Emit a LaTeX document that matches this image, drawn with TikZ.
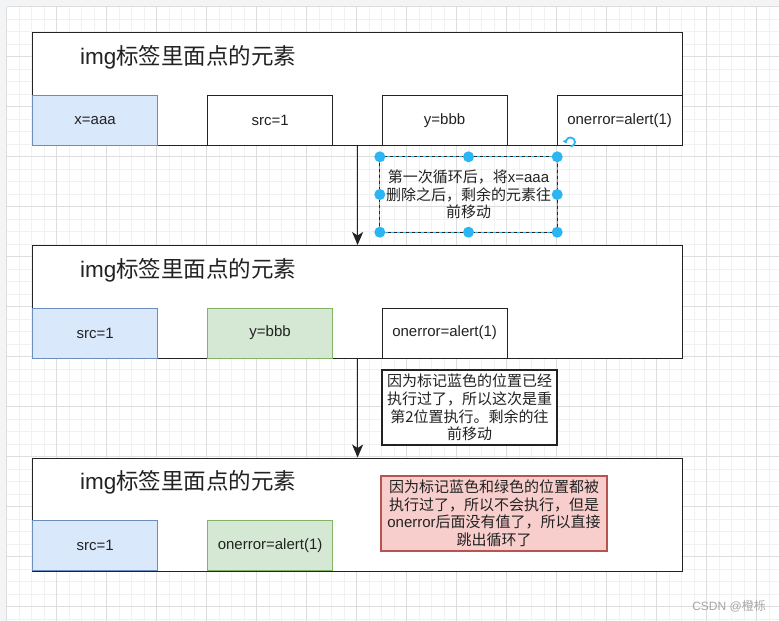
\documentclass[tikz,border=0pt]{standalone}
\usepackage{fontspec}
\setmainfont{Liberation Sans}
\newfontfamily\cjk{Noto Sans CJK SC}
\newfontfamily\lat{Liberation Sans}
\usetikzlibrary{arrows.meta}
\definecolor{gridmin}{HTML}{F1F1F1}
\definecolor{gridmaj}{HTML}{DDDDDD}
\definecolor{canvasbg}{HTML}{F3F4F6}
\definecolor{bluefill}{HTML}{DAE8FC}
\definecolor{bluestroke}{HTML}{6C8EBF}
\definecolor{greenfill}{HTML}{D5E8D4}
\definecolor{greenstroke}{HTML}{82B366}
\definecolor{redfill}{HTML}{F8CECC}
\definecolor{redstroke}{HTML}{B85450}
\definecolor{selblue}{HTML}{29B6F2}
\definecolor{boxline}{HTML}{222222}
\tikzset{
  bigbox/.style={draw=boxline, line width=1.2pt, fill=white, inner sep=0pt, minimum width=650pt, minimum height=113pt, anchor=north west},
  cell/.style={draw=boxline, line width=1.2pt, fill=white, inner sep=0pt, minimum width=125pt, minimum height=50pt, anchor=north west, font=\lat\fontsize{15}{18}\selectfont, text=boxline},
  bluecell/.style={cell, fill=bluefill, draw=bluestroke},
  greencell/.style={cell, fill=greenfill, draw=greenstroke},
  title/.style={anchor=west, inner sep=0pt, font=\cjk\fontsize{22.5}{27}\selectfont, text=boxline},
  note/.style={align=center, inner sep=0pt, font=\cjk\fontsize{15}{17.6}\selectfont, text=boxline},
  arr/.style={draw=boxline, line width=1.2pt, -{Stealth[length=13pt,width=11pt,inset=3.5pt]}},
  handle/.style={circle, fill=selblue, inner sep=0pt, minimum size=11pt},
}
\begin{document}
\begin{tikzpicture}[x=1pt,y=-1pt]
\useasboundingbox (0,0) rectangle (779,621);
% canvas
\fill[canvasbg] (0,0) rectangle (779,621);
\fill[white] (6.7,6.7) rectangle (779,621);
\foreach \i in {0,...,62} {
  \draw[gridmin, line width=0.9pt] ({6.7+12.5*\i},6.7) -- ({6.7+12.5*\i},621);
}
\foreach \i in {0,...,49} {
  \draw[gridmin, line width=0.9pt] (6.7,{6.7+12.5*\i}) -- (779,{6.7+12.5*\i});
}
\foreach \i in {0,...,15} {
  \draw[gridmaj, line width=0.9pt] ({6.7+50*\i},6.7) -- ({6.7+50*\i},621);
}
\foreach \i in {0,...,12} {
  \draw[gridmaj, line width=0.9pt] (6.7,{6.7+50*\i}) -- (779,{6.7+50*\i});
}

% ---------- box 1 ----------
\node[bigbox] (b1) at (32,32) {};
\node[title] (t1) at (80,57) {{\lat img}标签里面点的元素};
\node[bluecell] (c11) at (32,95) {x=aaa};
\node[cell] (c12) at (207,95) {src=1};
\node[cell] (c13) at (381.5,95) {y=bbb};
\node[cell] (c14) at (556.5,95) {onerror=alert(1)};

% ---------- box 2 ----------
\node[bigbox] (b2) at (32,245) {};
\node[title] (t2) at (80,270) {{\lat img}标签里面点的元素};
\node[bluecell] (c21) at (32,307.5) {src=1};
\node[greencell] (c22) at (207,307.5) {y=bbb};
\node[cell] (c23) at (381.5,307.5) {onerror=alert(1)};

% ---------- box 3 ----------
\node[bigbox] (b3) at (32,457.5) {};
\node[title] (t3) at (80,482) {{\lat img}标签里面点的元素};
\node[bluecell] (c31) at (32,520) {src=1};
\node[greencell] (c32) at (207,520) {onerror=alert(1)};

% ---------- arrows ----------
\draw[arr] (b1.south) -- (b2.north);
\draw[arr] (b2.south) -- (b3.north);

% ---------- note 1 (selected) ----------
\node[minimum width=177pt, minimum height=75pt, inner sep=0pt] (s1) at (468.5,194.5) {};
\draw[boxline, line width=0.9pt, dash pattern=on 3pt off 3pt] (s1.north west) rectangle (s1.south east);
\draw[selblue, line width=0.9pt, dash pattern=on 3pt off 3pt, dash phase=3pt] (s1.north west) rectangle (s1.south east);
\node[note] (n1) at (s1.center) {第一次循环后，将{\lat x=aaa}\\删除之后，剩余的元素往\\前移动};
\foreach \p in {north west,north,north east,west,east,south west,south,south east} {
  \node[handle] at (s1.\p) {};
}
% rotate handle
\draw[selblue, line width=1.8pt, -{Triangle[length=3.5pt,width=5pt]}] (570.5,146.5) arc[start angle=-90, end angle=200, radius=4.5pt];

% ---------- note 2 ----------
\node[note, draw=boxline, line width=1.2pt, fill=white, minimum width=175pt, minimum height=75pt] (n2) at (469.5,407.5) {因为标记蓝色的位置已经\\执行过了，所以这次是重\\第2位置执行。剩余的往\\前移动};

% ---------- note 3 ----------
\node[note, draw=redstroke, line width=1.2pt, fill=redfill, minimum width=226pt, minimum height=75pt] (n3) at (494,513.5) {因为标记蓝色和绿色的位置都被\\执行过了，所以不会执行，但是\\{\lat onerror}后面没有值了，所以直接\\跳出循环了};

% watermark
\node[anchor=east, inner sep=0pt, text=black!35, font=\cjk\fontsize{12}{14}\selectfont] (wm) at (766,606) {{\lat CSDN @}橙栎};
\end{tikzpicture}
\end{document}
